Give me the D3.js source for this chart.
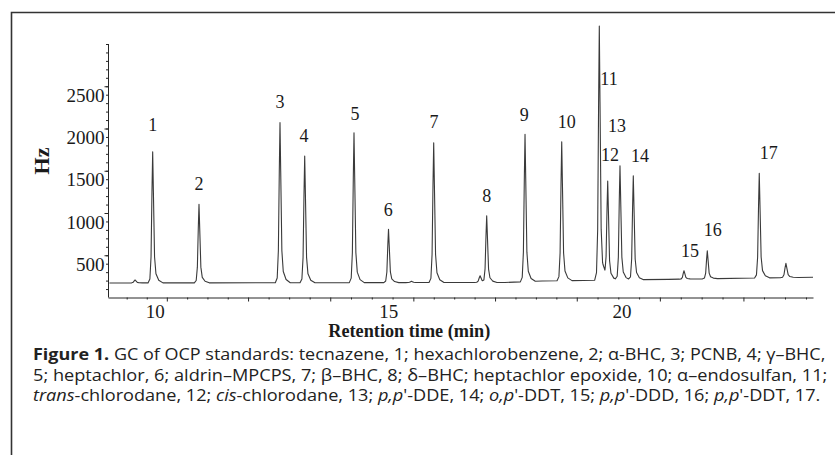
<!DOCTYPE html>
<html>
<head>
<meta charset="utf-8">
<script src="https://cdn.jsdelivr.net/npm/d3@7"></script>
<style>
  body { margin: 0; background: #fff; }
  svg { display: block; }
</style>
</head>
<body>
<svg id="chart" width="835" height="455"></svg>
<script>
// ---- data ----
// peak retention times (min) and apex heights (Hz)
const peakNames = ['1','2','3','4','5','6','7','8','9','10','11','12','13','14','15','16','17'];
const peakTimes = [9.957, 10.949, 12.684, 13.213, 14.269, 15.008, 15.976, 17.111, 17.932,
                   18.718, 19.523, 19.703, 19.966, 20.251, 21.337, 21.836, 22.949];
const peakHeights = [1725, 1103, 2069, 1675, 1950, 807, 1832, 964, 1931,
                     1844, 3213, 1351, 1560, 1441, 317, 554, 1470];

// where each peak number is written (time, Hz of text baseline)
const labelTimes = [9.957, 10.949, 12.684, 13.198, 14.290, 15.003, 15.982, 17.110, 17.917,
                    18.824, 19.730, 19.751, 19.902, 20.394, 21.465, 21.953, 23.151];
const labelValues = [1970, 1272, 2243, 1844, 2101, 964, 2002, 1134, 2092,
                     2009, 2515, 1615, 1962, 1607, 483, 731, 1635];

// small unlabeled bumps (time, Hz above baseline)
const bumpTimes = [9.58, 15.5, 16.97, 23.52];
const bumpHeights = [35, 15, 80, 170];

// baseline drift
const baseTimes = [9.03, 17.5, 18.3, 21.0, 24.1];
const baseValues = [172, 178, 195, 215, 240];

// axis ticks
const yTickVals = [500, 1000, 1500, 2000, 2500];
const yMinorVals = d3.range(100, 3001, 100);
const xLabelVals = [10, 15, 20];
const xMajorTicks = [10.26, 12.0, 13.76, 15.54, 17.29, 19.04, 20.82, 22.61];

// peak outline: time offsets (min) and share of peak height
const shapeOffsets = [-0.1, -0.06, -0.035, -0.015, 0, 0.015, 0.04, 0.07, 0.13, 0.22];
const shapeFrac = [0, 0.03, 0.2, 0.7, 1, 0.7, 0.2, 0.07, 0.02, 0];

const caption = [
  [['Figure 1.', 'b'], [' GC of OCP standards: tecnazene, 1; hexachlorobenzene, 2; \u03b1-BHC, 3; PCNB, 4; \u03b3\u2013BHC,', '']],
  [['5; heptachlor, 6; aldrin\u2013MPCPS, 7; \u03b2\u2013BHC, 8; \u03b4\u2013BHC; heptachlor epoxide, 10; \u03b1\u2013endosulfan, 11;', '']],
  [['trans', 'i'], ['-chlorodane, 12; ', ''], ['cis', 'i'], ['-chlorodane, 13; ', ''], ['p,p', 'i'], ["'-DDE, 14; ", ''],
   ['o,p', 'i'], ["'-DDT, 15; ", ''], ['p,p', 'i'], ["'-DDD, 16; ", ''], ['p,p', 'i'], ["'-DDT, 17.", '']]
];
const captionEnds = [826, 828, 821];

// ---- drawing ----
const svg = d3.select('#chart');
const serif = '"Liberation Serif", "Times New Roman", serif';
const ink = '#262626';

const x = d3.scaleLinear().domain([9, 24.1]).range([108, 813]);
const y = d3.scaleLinear().domain([0, 3000]).range([297.5, 44]);
const base = d3.scaleLinear().domain(baseTimes).range(baseValues).clamp(true);
const shape = d3.scaleLinear().domain(shapeOffsets).range(shapeFrac).clamp(true);

// frame (left and top edges only are inside the picture)
svg.append('path')
    .attr('d', 'M11.5,455V12.5H835')
    .attr('fill', 'none')
    .attr('stroke', '#333')
    .attr('stroke-width', 1.6);

// y axis: minor then major ticks
svg.append('g')
    .attr('transform', 'translate(108,0)')
    .call(d3.axisLeft(y).tickValues(yMinorVals).tickSize(2).tickFormat(''))
    .call(g => g.select('.domain').remove())
    .selectAll('line').attr('stroke', ink);

let yAxis = svg.append('g')
    .attr('transform', 'translate(108.5,0)')
    .call(d3.axisLeft(y).tickValues(yTickVals).tickSize(4).tickPadding(0)
        .tickSizeOuter(0).tickFormat(d3.format('d')));
yAxis.select('.domain').attr('stroke', ink).attr('d', 'M0,' + y(3000) + 'V' + y(0));
yAxis.selectAll('line').attr('stroke', ink);
yAxis.selectAll('text')
    .attr('y', 9)
    .style('font-family', serif)
    .style('font-size', '19px')
    .attr('fill', '#1a1a1a');

// x axis
let xAxis = svg.append('g')
    .attr('transform', 'translate(0,297.5)')
    .call(d3.axisBottom(x).tickValues(xMajorTicks).tickSize(4).tickFormat('').tickSizeOuter(0));
xAxis.select('.domain').attr('stroke', ink);
xAxis.selectAll('line').attr('stroke', ink);

let minorX = [];
for (let i = 0; i < xMajorTicks.length - 1; i++) {
    let step = (xMajorTicks[i + 1] - xMajorTicks[i]) / 4;
    for (let k = 1; k < 4; k++) minorX.push(xMajorTicks[i] + k * step);
}
svg.append('g')
    .attr('transform', 'translate(0,297.5)')
    .call(d3.axisBottom(x).tickValues([9.4, 9.83].concat(minorX, [23.05, 23.5, 23.95])).tickSize(2).tickFormat(''))
    .call(g => g.select('.domain').remove())
    .selectAll('line').attr('stroke', ink);

let xLabels = svg.append('g')
    .attr('transform', 'translate(0,297.5)')
    .call(d3.axisBottom(x).tickValues(xLabelVals).tickSize(0).tickPadding(0));
xLabels.select('.domain').remove();
xLabels.selectAll('text')
    .attr('y', 20.5)
    .attr('dy', null)
    .style('font-family', serif)
    .style('font-size', '19px')
    .attr('fill', '#1a1a1a');

// axis titles
svg.append('text')
    .attr('transform', 'translate(49,161) rotate(-90)')
    .attr('text-anchor', 'middle')
    .style('font-family', serif)
    .style('font-weight', 'bold')
    .style('font-size', '22px')
    .attr('fill', '#1a1a1a')
    .text('Hz');

let xt = svg.append('text')
    .attr('x', 0).attr('y', 0)
    .style('font-family', serif)
    .style('font-weight', 'bold')
    .style('font-size', '19px')
    .attr('fill', '#1a1a1a')
    .text('Retention time (min)');
let xtw = xt.node().getComputedTextLength();
xt.attr('transform', 'translate(328.3,337.3) scale(' + (162 / xtw) + ',1)');

// trace: baseline + peaks through their outline knots
let times = baseTimes.slice();
peakTimes.forEach(t => shapeOffsets.forEach(o => times.push(t + o)));
bumpTimes.forEach(t => shapeOffsets.forEach(o => times.push(t + o * 1.2)));
times = Array.from(new Set(times.map(t => +t.toFixed(4))))
    .filter(t => t >= baseTimes[0] && t <= baseTimes[baseTimes.length - 1])
    .sort((a, b) => a - b);

let trace = times.map(t => {
    let v = base(t);
    peakTimes.forEach((p, i) => { v += (peakHeights[i] - base(p)) * shape(t - p); });
    bumpTimes.forEach((p, i) => { v += bumpHeights[i] * shape((t - p) / 1.2); });
    return [t, v];
});

svg.append('path')
    .datum(trace)
    .attr('fill', 'none')
    .attr('stroke', '#3a3a3a')
    .attr('stroke-width', 1.1)
    .attr('stroke-linejoin', 'round')
    .attr('d', d3.line().x(d => x(d[0])).y(d => y(d[1])));

// peak numbers
svg.append('g')
    .selectAll('text')
    .data(peakNames)
    .enter()
    .append('text')
    .attr('x', (d, i) => x(labelTimes[i]))
    .attr('y', (d, i) => y(labelValues[i]))
    .attr('text-anchor', 'middle')
    .style('font-family', serif)
    .style('font-size', '18px')
    .attr('fill', '#1a1a1a')
    .text(d => d);

// caption, each line squeezed to the printed width
caption.forEach((line, li) => {
    let t = svg.append('text')
        .attr('x', 0).attr('y', 0)
        .style('font-family', '"Open Sans", sans-serif')
        .style('font-size', '16px')
        .attr('fill', '#222');
    line.forEach(part => {
        let sp = t.append('tspan').text(part[0]);
        if (part[1] == 'b') sp.style('font-weight', 'bold');
        if (part[1] == 'i') sp.style('font-style', 'italic');
    });
    let w = t.node().getComputedTextLength();
    t.attr('transform', 'translate(33,' + (360 + li * 20.7) + ') scale(' + ((captionEnds[li] - 33) / w) + ',1)');
});
</script>
</body>
</html>
